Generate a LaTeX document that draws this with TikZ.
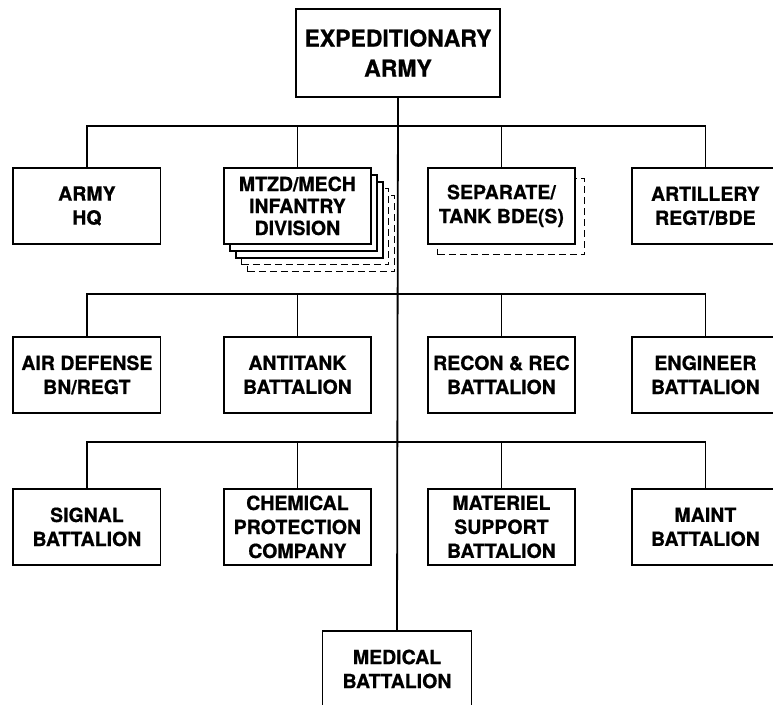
\documentclass[tikz,border=0pt]{standalone}
\usepackage{fontspec}
\setmainfont{TeX Gyre Heros}[BoldFeatures={FakeBold=0.7}]
\usetikzlibrary{positioning}
\usetikzlibrary{matrix,shadows}

\tikzset{
  unit/.style={draw, fill=white, align=center, inner sep=2pt,
    minimum width=147pt, minimum height=76pt,
    font=\bfseries\fontsize{19.5}{24}\selectfont},
  ghost/.style={dash pattern=on 7pt off 4pt, line width=1.1pt}
}

\begin{document}
\begin{tikzpicture}[line width=1.8pt]
  \useasboundingbox (0,0) rectangle (773pt,704pt);

  \node [unit, minimum width=204pt, minimum height=88pt,
         font=\bfseries\fontsize{23}{30}\selectfont] (army) at (398pt,651pt) {EXPEDITIONARY\\ARMY};

  \matrix[column sep=55.2pt, row sep=74.2pt, inner sep=0pt, anchor=north west] at (11.6pt,537.9pt)
    {
      \node [unit] (hq) {ARMY\\HQ}; &[6.5pt]
      \node [unit, font=\bfseries\fontsize{19.5}{22}\selectfont,
             copy shadow={shadow xshift=24pt, shadow yshift=-28pt, ghost},
             copy shadow={shadow xshift=18pt, shadow yshift=-21pt, ghost},
             copy shadow={shadow xshift=12pt, shadow yshift=-14pt},
             copy shadow={shadow xshift=6pt, shadow yshift=-7pt}] (mtzd) {MTZD/MECH\\INFANTRY\\DIVISION}; &
      \node [unit, copy shadow={shadow xshift=10pt, shadow yshift=-11pt, ghost}] (sep) {SEPARATE/\\TANK BDE(S)}; &
      \node [unit] (art) {ARTILLERY\\REGT/BDE}; \\[17pt]
      \node [unit] (ad) {AIR DEFENSE\\BN/REGT}; &[6.5pt]
      \node [unit] (at) {ANTITANK\\BATTALION}; &
      \node [unit] (rec) {RECON \& REC\\BATTALION}; &
      \node [unit] (eng) {ENGINEER\\BATTALION}; \\
      \node [unit] (sig) {SIGNAL\\BATTALION}; &[6.5pt]
      \node [unit] (chem) {CHEMICAL\\PROTECTION\\COMPANY}; &
      \node [unit] (mat) {MATERIEL\\SUPPORT\\BATTALION}; &
      \node [unit] (maint) {MAINT\\BATTALION}; \\
    };

  \node [unit, minimum width=149pt] (med) at (397pt,35pt) {MEDICAL\\BATTALION};

  \draw (army.south) -- (med.north);

  \draw (hq.north) -- ++(up:41pt)   -| (art.north);
  \draw (mtzd.north) -- ++(up:41pt);
  \draw (sep.north) -- ++(up:41pt);

  \draw (ad.north) -- ++(up:42pt)   -| (eng.north);
  \draw (at.north) -- ++(up:42pt);
  \draw (rec.north) -- ++(up:42pt);

  \draw (sig.north) -- ++(up:46pt)  -| (maint.north);
  \draw (chem.north) -- ++(up:46pt);
  \draw (mat.north) -- ++(up:46pt);
\end{tikzpicture}
\end{document}
